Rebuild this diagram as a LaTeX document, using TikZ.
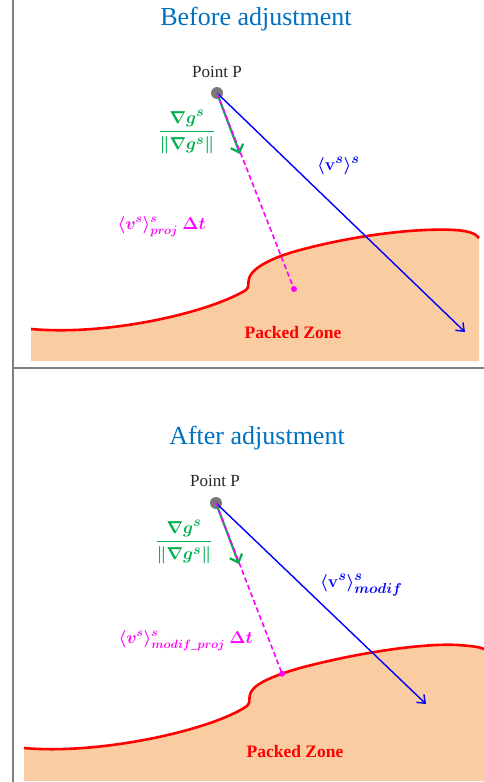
\documentclass[tikz,border=0pt]{standalone}
\usepackage{fontspec}
\setmainfont{Liberation Serif}
\usepackage{amsmath}
\DeclareMathSizes{18}{18}{14}{10}
\DeclareMathSizes{17}{17}{12.5}{9}
\usetikzlibrary{arrows.meta,intersections}
\definecolor{ttl}{RGB}{0,112,192}
\definecolor{peach}{RGB}{249,204,162}
\definecolor{grn}{RGB}{0,176,80}
\definecolor{mag}{RGB}{255,0,255}
\definecolor{framecol}{RGB}{128,128,128}
\definecolor{ptcol}{RGB}{120,120,120}
\begin{document}
\begin{tikzpicture}[x=1pt,y=-1pt,
  ttlstyle/.style={font=\fontsize{26}{30}\selectfont, text=ttl, inner sep=0pt},
  ptlabel/.style={font=\fontsize{17}{20}\selectfont, text=black!85, inner sep=0pt},
  zonelabel/.style={font=\fontsize{17.5}{20}\selectfont\bfseries, text=red, inner sep=0pt},
  mathlbl/.style={font=\fontsize{18}{21}\selectfont\boldmath, inner sep=0pt},
  projlbl/.style={font=\fontsize{17}{20}\selectfont\boldmath, text=mag, inner sep=0pt, anchor=base east},
  fraclbl/.style={font=\fontsize{18}{21}\selectfont\boldmath, text=grn, inner sep=0pt},
  velarrow/.style={blue, line width=1.4pt, -{Straight Barb[length=7pt,width=11pt]}},
  gradarrow/.style={grn, line width=2.2pt, -{Straight Barb[length=7pt,width=13pt]}},
  projline/.style={mag, line width=1.6pt, dash pattern=on 5pt off 3pt},
  redline/.style={red, line width=2.6pt},
  zonefill/.style={fill=peach, draw=none},
  pdot/.style={circle, fill=ptcol, inner sep=0pt, minimum size=12pt},
  mdot/.style={circle, fill=mag, inner sep=0pt, minimum size=6pt},
  sepline/.style={framecol, line width=1.5pt}
]
\useasboundingbox (0,0) rectangle (484,782);

% frame lines
\coordinate (VT) at (13,0);
\coordinate (VB) at (13,782);
\coordinate (HL) at (13,368);
\coordinate (HR) at (484,368);
\draw[sepline] (VT) -- (VB);
\draw[sepline] (HL) -- (HR);

% ===== Top panel =====
\fill[zonefill] (31,329) .. controls (110,336) and (210,312) .. (246,290)
  .. controls (250,287) and (247,281) .. (250,276)
  .. controls (254,268) and (270,258) .. (300,250)
  .. controls (360,234) and (420,228) .. (455,230)
  .. controls (470,231) and (476,234) .. (479,238)
  -- (479,361) -- (31,361) -- cycle;
\draw[redline] (31,329) .. controls (110,336) and (210,312) .. (246,290)
  .. controls (250,287) and (247,281) .. (250,276)
  .. controls (254,268) and (270,258) .. (300,250)
  .. controls (360,234) and (420,228) .. (455,230)
  .. controls (470,231) and (476,234) .. (479,238);

\node[ttlstyle] (T1) at (256,19) {Before adjustment};
\node[ptlabel] (PL1) at (217,72) {Point P};
\node[pdot] (P1) at (217,93) {};
\coordinate (V1) at (465,332);
\coordinate (G1) at (240,154);
\node[mdot] (M1) at (294,289) {};
\draw[velarrow] (P1.center) -- (V1);
\draw[gradarrow] (P1.center) -- (G1);
\draw[projline] (P1.center) -- (M1.center);
\node[fraclbl] (F1) at (187,132) {$\displaystyle\frac{\nabla g^s}{\|\nabla g^s\|}$};
\node[mathlbl, text=blue, anchor=base west] (VL1) at (317,170) {$\langle \mathbf{v}^s\rangle^s$};
\node[projlbl] (PR1) at (206,229) {$\langle v^s\rangle^s_{proj}\ \Delta t$};
\node[zonelabel] (Z1) at (293,333) {Packed Zone};

% ===== Bottom panel =====
\fill[zonefill] (24,748) .. controls (100,755) and (212,730) .. (247,706)
  .. controls (251,703) and (248,697) .. (251,692)
  .. controls (255,684) and (272,676) .. (300,668)
  .. controls (360,652) and (425,643) .. (458,645)
  .. controls (472,646) and (480,647) .. (484,649)
  -- (484,781) -- (24,781) -- cycle;
\draw[redline, name path=cB] (24,748) .. controls (100,755) and (212,730) .. (247,706)
  .. controls (251,703) and (248,697) .. (251,692)
  .. controls (255,684) and (272,676) .. (300,668)
  .. controls (360,652) and (425,643) .. (458,645)
  .. controls (472,646) and (480,647) .. (484,649);

\node[ttlstyle] (T2) at (257,438) {After adjustment};
\node[ptlabel] (PL2) at (215,481) {Point P};
\node[pdot] (P2) at (216,503) {};
\coordinate (V2) at (426,704);
\coordinate (G2) at (239,564);
\coordinate (RE) at (295,707);
\path[name path=rB] (P2.center) -- (RE);
\path[name intersections={of=cB and rB, by=X2}];
\draw[velarrow] (P2.center) -- (V2);
\draw[gradarrow] (P2.center) -- (G2);
\draw[projline] (P2.center) -- (X2);
\node[mdot] (M2) at (X2) {};
\node[fraclbl] (F2) at (184,542) {$\displaystyle\frac{\nabla g^s}{\|\nabla g^s\|}$};
\node[mathlbl, text=blue, anchor=base west] (VL2) at (320,587) {$\langle \mathbf{v}^s\rangle^s_{modif}$};
\node[projlbl] (PR2) at (253,643) {$\langle v^s\rangle^s_{modif\_proj}\ \Delta t$};
\node[zonelabel] (Z2) at (295,752) {Packed Zone};
\end{tikzpicture}
\end{document}
